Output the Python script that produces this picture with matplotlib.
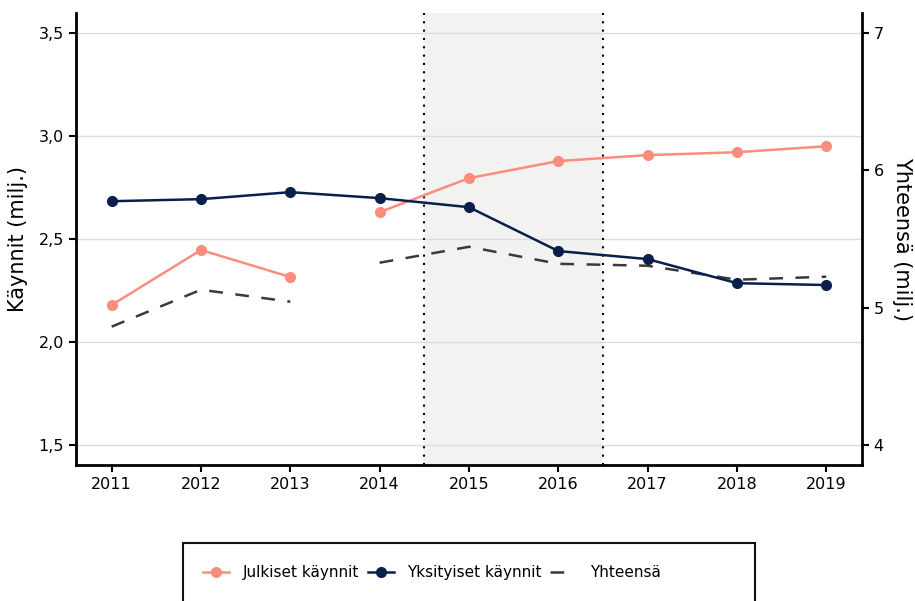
import matplotlib
matplotlib.use("Agg")
import matplotlib.pyplot as plt
from matplotlib.transforms import blended_transform_factory
from matplotlib.patches import Rectangle
import numpy as np

plt.rcParams['font.family'] = ['DejaVu Sans']

years = [2011, 2012, 2013, 2014, 2015, 2016, 2017, 2018, 2019]
julkiset = [2.18, 2.447, 2.316, 2.631, 2.796, 2.879, 2.908, 2.922, 2.951]
yksityiset = [2.684, 2.694, 2.728, 2.699, 2.655, 2.442, 2.403, 2.286, 2.277]
yhteensa = [4.862, 5.131, 5.044, 5.328, 5.444, 5.32, 5.306, 5.204, 5.226]
# series break between 2013 and 2014 for julkiset and yhteensa
break_idx = 3
shade_start, shade_end = 2014.5, 2016.5

left_ticks = [1.5, 2.0, 2.5, 3.0, 3.5]
left_ticklabels = ['1,5', '2,0', '2,5', '3,0', '3,5']
right_ticks = [4, 5, 6, 7]

c_j = '#FA8D7C'
c_y = '#0B1F4D'
c_t = '#3A3A3A'

fig = plt.figure(figsize=(9.15, 6.01), dpi=100)
ax = fig.add_axes([0.083, 0.2263, 0.859, 0.7517])
ax2 = ax.twinx()
ax.set_zorder(ax2.get_zorder() + 1)
ax.patch.set_visible(False)

ax.set_xlim(2010.6, 2019.4)
ax.set_ylim(1.403, 3.597)
ax2.set_ylim(3.854, 7.146)

# background elements on the lower (right) axes
ax2.axvspan(shade_start, shade_end, color='#F2F2F0', zorder=0, lw=0)
tr = blended_transform_factory(ax2.transAxes, ax.transData)
for t in left_ticks:
    ax2.plot([0, 1], [t, t], transform=tr, color='#DDDDDD', lw=1, zorder=0.5)
ax2.axvline(shade_start, color='black', ls=(0, (1, 3)), lw=1.5, zorder=1)
ax2.axvline(shade_end, color='black', ls=(0, (1, 3)), lw=1.5, zorder=1)

# Yhteensa on right axis
dash = (0, (5.5, 5))
l3, = ax2.plot(years[:break_idx], yhteensa[:break_idx], color=c_t, ls=dash, lw=1.8, label='Yhteensä', zorder=2)
ax2.plot(years[break_idx:], yhteensa[break_idx:], color=c_t, ls=dash, lw=1.8, zorder=2)

lj, = ax.plot(years[:break_idx], julkiset[:break_idx], color=c_j, marker='o', ms=7, lw=1.8, label='Julkiset käynnit')
ax.plot(years[break_idx:], julkiset[break_idx:], color=c_j, marker='o', ms=7, lw=1.8)
ly, = ax.plot(years, yksityiset, color=c_y, marker='o', ms=7, lw=1.8, label='Yksityiset käynnit')

ax.set_xticks(years)
ax.set_xticklabels([str(y) for y in years])
ax.set_yticks(left_ticks)
ax.set_yticklabels(left_ticklabels)
ax2.set_yticks(right_ticks)
ax2.set_xlim(2010.6, 2019.4)

for a in (ax, ax2):
    a.spines['top'].set_visible(False)
    for s in ('left', 'right', 'bottom'):
        a.spines[s].set_linewidth(2)
        a.spines[s].set_color('black')
    a.tick_params(axis='both', width=1.5, length=5, labelsize=11.5, colors='black')
ax.spines['right'].set_visible(False)
ax2.spines['left'].set_visible(False)
ax2.spines['bottom'].set_visible(False)

ax.set_ylabel('Käynnit (milj.)', fontsize=15, labelpad=8)
ax2.set_ylabel('Yhteensä (milj.)', fontsize=15, rotation=270, labelpad=20)

leg = fig.legend(handles=[lj, ly, l3], loc='center left', bbox_to_anchor=(0.222, 0.0466),
                 ncol=3, frameon=False, fontsize=11, borderpad=0, borderaxespad=0,
                 handlelength=1.7, columnspacing=0.55, handletextpad=0.9)

frame = Rectangle((183 / 915, -0.05), (755 - 183) / 915, (601 - 543) / 601 + 0.05,
                  transform=fig.transFigure, fill=False, edgecolor='#111111', lw=1.5)
fig.patches.append(frame)

fig.savefig('out.png', dpi=100)
